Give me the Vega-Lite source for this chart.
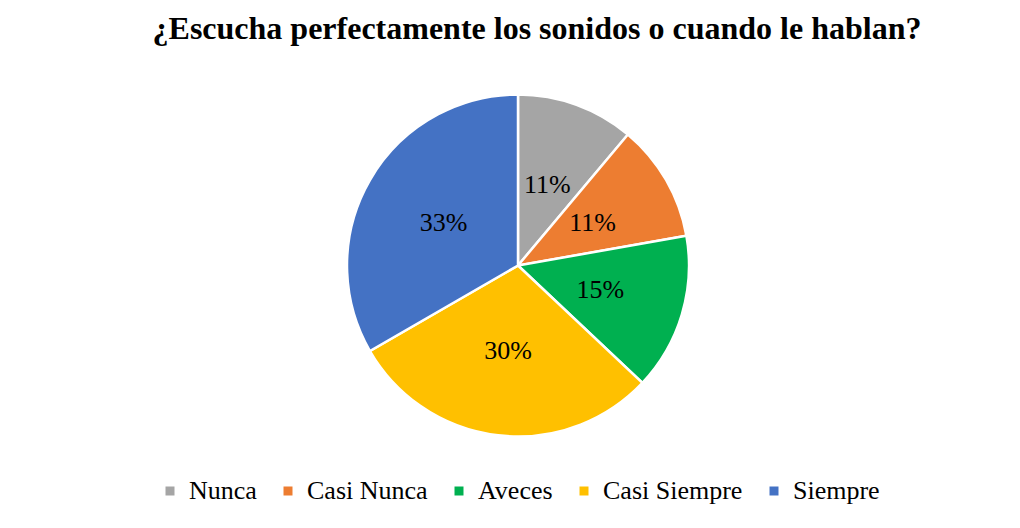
{
  "$schema": "https://vega.github.io/schema/vega-lite/v6.json",
  "autosize": {"type": "fit", "contains": "padding"},
  "width": 1020,
  "height": 528,
  "padding": {"left": 16, "right": 0, "top": 13, "bottom": 24},
  "background": "white",
  "title": {
    "text": "¿Escucha perfectamente los sonidos o cuando le hablan?",
    "font": "Liberation Serif",
    "fontSize": 32,
    "fontWeight": "bold",
    "color": "black",
    "anchor": "middle",
    "dx": 19,
    "offset": 37
  },
  "data": {
    "values": [
      {"cat": "Nunca", "n": 3, "label": "11%", "ord": 1},
      {"cat": "Casi Nunca", "n": 3, "label": "11%", "ord": 2},
      {"cat": "Aveces", "n": 4, "label": "15%", "ord": 3},
      {"cat": "Casi Siempre", "n": 8, "label": "30%", "ord": 4},
      {"cat": "Siempre", "n": 9, "label": "33%", "ord": 5}
    ]
  },
  "encoding": {
    "theta": {"field": "n", "type": "quantitative", "stack": true},
    "order": {"field": "ord", "type": "quantitative"},
    "color": {
      "field": "cat",
      "type": "nominal",
      "sort": ["Nunca", "Casi Nunca", "Aveces", "Casi Siempre", "Siempre"],
      "scale": {
        "domain": ["Nunca", "Casi Nunca", "Aveces", "Casi Siempre", "Siempre"],
        "range": ["#A5A5A5", "#ED7D31", "#00B050", "#FFC000", "#4472C4"]
      },
      "legend": {
        "title": null,
        "orient": "bottom",
        "direction": "horizontal",
        "symbolType": "square",
        "symbolSize": 81,
        "symbolStrokeWidth": 0,
        "labelFont": "Liberation Serif",
        "labelFontSize": 26,
        "labelColor": "black",
        "labelLimit": 400,
        "columnPadding": 18,
        "labelOffset": 6,
        "offset": 30
      }
    }
  },
  "layer": [
    {
      "mark": {"type": "arc", "outerRadius": 171, "stroke": "white", "strokeWidth": 2.5}
    },
    {
      "mark": {"type": "text", "radius": 86, "font": "Liberation Serif", "fontSize": 26, "color": "black"},
      "encoding": {
        "text": {"field": "label"},
        "color": {"value": "black"}
      }
    }
  ],
  "config": {
    "view": {"stroke": null},
    "legend": {"layout": {"bottom": {"anchor": "middle"}}}
  }
}
